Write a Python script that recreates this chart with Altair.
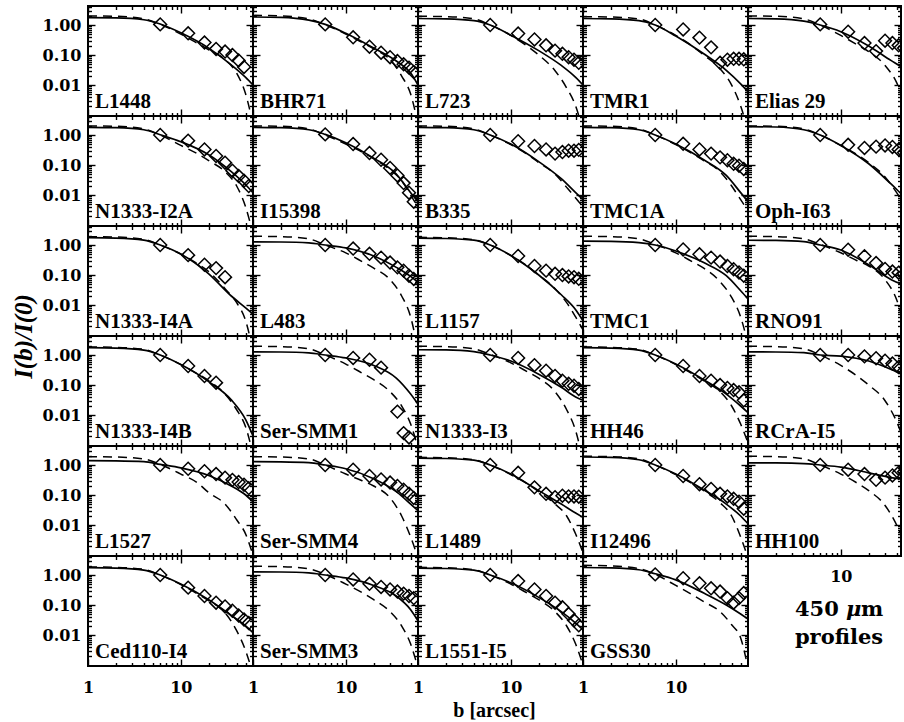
import math
import altair as alt
import pandas as pd

# ---------------- data ----------------
NAMES = ["L1448", "BHR71", "L723", "TMR1", "Elias 29",
         "N1333-I2A", "I15398", "B335", "TMC1A", "Oph-I63",
         "N1333-I4A", "L483", "L1157", "TMC1", "RNO91",
         "N1333-I4B", "Ser-SMM1", "N1333-I3", "HH46", "RCrA-I5",
         "L1527", "Ser-SMM4", "L1489", "I12496", "HH100",
         "Ced110-I4", "Ser-SMM3", "L1551-I5", "GSS30"]

# observed normalised intensity at impact parameters b (arcsec)
DIAMOND_B = [6, 12, 18, 24, 30, 36, 42, 48, 54]
DIAMOND_I = [
    [1.05, 0.53, 0.26, 0.16, 0.13, 0.10, 0.066, 0.040],
    [1.05, 0.39, 0.19, 0.12, 0.085, 0.063, 0.049, 0.038, 0.027],
    [1.0, 0.52, 0.33, 0.21, 0.14, 0.11, 0.085, 0.07, 0.055],
    [1.0, 0.71, 0.38, 0.18, 0.055, 0.07, 0.075, 0.075, 0.072],
    [1.05, 0.6, 0.25, 0.135, 0.3, 0.25, 0.21, 0.17, 0.15],
    [1.0, 0.65, 0.33, 0.2, 0.12, 0.065, 0.043, 0.03, 0.02],
    [1.05, 0.5, 0.25, 0.15, 0.08, 0.045, 0.025, 0.012, 0.006],
    [1.0, 0.62, 0.43, 0.33, 0.24, 0.27, 0.3, 0.3, 0.32],
    [1.0, 0.51, 0.33, 0.24, 0.18, 0.145, 0.11, 0.095, 0.074],
    [1.0, 0.47, 0.37, 0.41, 0.45, 0.4, 0.33, 0.26],
    [1.0, 0.46, 0.22, 0.17, 0.085],
    [1.0, 0.76, 0.51, 0.38, 0.26, 0.18, 0.14, 0.095, 0.074],
    [1.0, 0.43, 0.2, 0.14, 0.11, 0.1, 0.09, 0.085, 0.075],
    [1.0, 0.71, 0.49, 0.38, 0.28, 0.2, 0.157, 0.122, 0.095],
    [1.0, 0.7, 0.42, 0.25, 0.16, 0.13, 0.12, 0.11],
    [1.0, 0.43, 0.2, 0.12],
    [1.0, 0.8, 0.7, 0.38, None, 0.013, 0.0025, 0.0018],
    [1.0, 0.8, 0.46, 0.3, 0.2, 0.14, 0.11, 0.095, 0.074],
    [1.0, 0.43, 0.2, 0.14, 0.1, 0.08, 0.068, 0.057, 0.031],
    [1.0, 1.0, 0.9, 0.78, 0.65, 0.52, 0.4, 0.3],
    [1.0, 0.75, 0.62, 0.5, 0.38, 0.32, 0.27, 0.22, 0.17],
    [1.0, 0.7, 0.43, 0.33, 0.26, 0.2, 0.15, 0.11, 0.08],
    [1.0, 0.55, 0.18, 0.11, 0.085, 0.095, 0.09, 0.09, 0.088],
    [1.0, 0.43, 0.23, 0.16, 0.11, 0.09, 0.075, 0.06, 0.035],
    [1.0, 0.7, 0.5, 0.32, 0.38, 0.45, 0.55, 0.6],
    [1.0, 0.38, 0.2, 0.12, 0.09, 0.065, 0.045, 0.033, 0.025],
    [1.0, 0.71, 0.51, 0.4, 0.33, 0.28, 0.24, 0.2, 0.17],
    [1.0, 0.63, 0.33, 0.2, 0.12, 0.084, 0.05, 0.031, 0.021],
    [1.05, 0.78, 0.53, 0.36, 0.28, 0.17, 0.12, 0.17, 0.25],
]

# solid model curve sampled at SOLID_B
SOLID_B = [1, 2, 4, 6, 10, 20, 35, 50, 60]
SOLID_I = [
    [1.75, 1.72, 1.5, 1.08, 0.55, 0.17, 0.047, 0.018, 0.010],
    [1.85, 1.8, 1.45, 1.05, 0.53, 0.17, 0.063, 0.025, 0.010],
    [1.65, 1.6, 1.4, 1.0, 0.46, 0.14, 0.045, 0.018, 0.010],
    [1.65, 1.6, 1.4, 1.0, 0.43, 0.11, 0.031, 0.011, 0.006],
    [1.65, 1.6, 1.35, 1.0, 0.6, 0.2, 0.065, 0.033, 0.025],
    [1.8, 1.75, 1.5, 1.02, 0.6, 0.22, 0.06, 0.022, 0.012],
    [1.8, 1.75, 1.5, 1.05, 0.55, 0.17, 0.05, 0.012, 0.006],
    [1.8, 1.75, 1.5, 1.0, 0.5, 0.13, 0.035, 0.012, 0.007],
    [1.8, 1.75, 1.5, 1.0, 0.5, 0.15, 0.045, 0.012, 0.006],
    [1.9, 1.85, 1.5, 1.0, 0.45, 0.11, 0.023, 0.008, 0.005],
    [1.75, 1.7, 1.45, 1.0, 0.5, 0.11, 0.02, 0.008, 0.005],
    [1.27, 1.26, 1.18, 1.0, 0.8, 0.43, 0.18, 0.09, 0.057],
    [1.7, 1.65, 1.45, 1.0, 0.45, 0.1, 0.022, 0.007, 0.003],
    [1.34, 1.32, 1.2, 1.0, 0.63, 0.26, 0.095, 0.03, 0.016],
    [1.44, 1.42, 1.3, 1.0, 0.68, 0.22, 0.07, 0.045, 0.04],
    [1.75, 1.7, 1.45, 1.0, 0.48, 0.13, 0.032, 0.007, 0.002],
    [1.27, 1.26, 1.18, 1.0, 0.8, 0.45, 0.17, 0.05, 0.023],
    [1.5, 1.48, 1.3, 1.0, 0.63, 0.23, 0.084, 0.04, 0.031],
    [1.75, 1.7, 1.45, 1.0, 0.5, 0.15, 0.05, 0.02, 0.012],
    [1.27, 1.26, 1.2, 1.0, 0.92, 0.63, 0.33, 0.2, 0.17],
    [1.4, 1.38, 1.3, 1.05, 0.8, 0.45, 0.2, 0.1, 0.06],
    [1.3, 1.28, 1.2, 1.0, 0.75, 0.35, 0.13, 0.05, 0.03],
    [1.7, 1.65, 1.45, 1.0, 0.5, 0.14, 0.05, 0.025, 0.018],
    [1.85, 1.8, 1.5, 1.0, 0.5, 0.15, 0.05, 0.02, 0.011],
    [1.18, 1.17, 1.12, 1.0, 0.85, 0.55, 0.38, 0.33, 0.3],
    [1.75, 1.7, 1.45, 1.0, 0.5, 0.15, 0.045, 0.02, 0.012],
    [1.27, 1.26, 1.18, 1.0, 0.8, 0.45, 0.2, 0.07, 0.03],
    [1.7, 1.65, 1.45, 1.0, 0.55, 0.18, 0.06, 0.025, 0.015],
    [1.78, 1.72, 1.5, 1.1, 0.69, 0.25, 0.1, 0.05, 0.034],
]

# dashed model curve sampled at DASH_B
DASH_B = [1, 2, 4, 6, 10, 15, 20, 30, 40, 50, 60]
DASH_I = [
    [2.0, 1.95, 1.6, 1.05, 0.5, 0.25, 0.15, 0.07, 0.025, 0.005, 0.0005],
    [2.1, 2.0, 1.6, 1.02, 0.5, 0.26, 0.16, 0.07, 0.02, 0.005, 0.0005],
    [1.95, 1.9, 1.6, 1.0, 0.45, 0.2, 0.1, 0.03, 0.008, 0.002, 0.0003],
    [1.9, 1.85, 1.6, 1.0, 0.45, 0.2, 0.1, 0.035, 0.01, 0.002, 0.0003],
    [2.0, 1.95, 1.6, 1.0, 0.45, 0.22, 0.13, 0.045, 0.012, 0.002, 0.0003],
    [2.0, 1.95, 1.6, 1.0, 0.45, 0.24, 0.14, 0.06, 0.02, 0.004, 0.0005],
    [2.0, 1.95, 1.6, 1.0, 0.5, 0.27, 0.16, 0.07, 0.03, 0.01, 0.004],
    [2.0, 1.95, 1.6, 1.0, 0.48, 0.23, 0.12, 0.05, 0.018, 0.008, 0.004],
    [2.0, 1.95, 1.6, 1.0, 0.48, 0.24, 0.14, 0.06, 0.02, 0.007, 0.003],
    [2.0, 1.95, 1.6, 1.0, 0.45, 0.22, 0.12, 0.04, 0.012, 0.004, 0.001],
    [1.9, 1.85, 1.55, 1.0, 0.5, 0.24, 0.13, 0.035, 0.012, 0.003, 0.0003],
    [1.95, 1.9, 1.6, 1.0, 0.55, 0.28, 0.17, 0.07, 0.02, 0.004, 0.0003],
    [1.8, 1.75, 1.5, 1.0, 0.45, 0.2, 0.1, 0.035, 0.012, 0.004, 0.0015],
    [1.95, 1.9, 1.6, 1.05, 0.55, 0.28, 0.17, 0.06, 0.018, 0.004, 0.0005],
    [1.95, 1.9, 1.6, 1.05, 0.55, 0.3, 0.2, 0.07, 0.015, 0.0015, 0.0002],
    [1.85, 1.8, 1.55, 1.0, 0.48, 0.24, 0.14, 0.05, 0.015, 0.004, 0.0005],
    [1.95, 1.9, 1.6, 1.0, 0.5, 0.25, 0.15, 0.06, 0.02, 0.005, 0.0008],
    [1.95, 1.9, 1.6, 1.05, 0.55, 0.28, 0.17, 0.06, 0.015, 0.003, 0.0003],
    [1.85, 1.8, 1.55, 1.0, 0.48, 0.24, 0.14, 0.06, 0.02, 0.005, 0.0012],
    [1.95, 1.9, 1.6, 1.0, 0.45, 0.2, 0.1, 0.03, 0.006, 0.001, 0.0002],
    [1.9, 1.85, 1.6, 1.05, 0.5, 0.26, 0.12, 0.05, 0.015, 0.005, 0.001],
    [1.9, 1.85, 1.6, 1.0, 0.5, 0.3, 0.2, 0.08, 0.02, 0.004, 0.0008],
    [1.8, 1.75, 1.5, 1.0, 0.48, 0.24, 0.13, 0.05, 0.02, 0.005, 0.0012],
    [1.95, 1.9, 1.6, 1.0, 0.48, 0.24, 0.14, 0.055, 0.02, 0.004, 0.0008],
    [1.95, 1.9, 1.6, 1.0, 0.5, 0.25, 0.14, 0.045, 0.01, 0.002, 0.0003],
    [1.85, 1.8, 1.55, 1.0, 0.48, 0.24, 0.14, 0.055, 0.014, 0.003, 0.0005],
    [1.95, 1.9, 1.6, 1.05, 0.5, 0.26, 0.15, 0.06, 0.02, 0.005, 0.0008],
    [1.8, 1.75, 1.5, 1.0, 0.5, 0.25, 0.15, 0.06, 0.02, 0.005, 0.001],
    [2.1, 2.0, 1.65, 1.05, 0.45, 0.22, 0.13, 0.06, 0.022, 0.008, 0.0008],
]

X_MAJOR = [1, 10]
X_MINOR = [2, 3, 4, 5, 6, 7, 8, 9, 20, 30, 40, 50]
Y_MAJOR = [1.0, 0.1, 0.01]
Y_MINOR = [0.002, 0.003, 0.004, 0.005, 0.006, 0.007, 0.008, 0.009,
           0.02, 0.03, 0.04, 0.05, 0.06, 0.07, 0.08, 0.09,
           0.2, 0.3, 0.4, 0.5, 0.6, 0.7, 0.8, 0.9, 2.0, 3.0, 4.0]

# caption pieces (the Greek mu is set in italics)
CAPTION_PARTS = ["450", "\u03bc", "m"]
CAPTION_STYLES = ["normal", "italic", "normal"]
CAPTION_LINE2 = "profiles"

# ---------------- layout ----------------
W = 165
W_LAST = 153
H = 110
X_MAX = 60.0
X_MAX_LAST = 10 ** (math.log10(X_MAX) * W_LAST / W)
Y_DOMAIN = [0.00093, 4.3]

TICK_FONT = "DejaVu Serif"
NAME_FONT = "Liberation Serif"
MAJ, MIN = 7, 3.5


def axis(orient, values, size, labels=False, lp=0, fmt=None, **kw):
    args = dict(orient=orient, values=values, tickSize={"expr": str(-size)},
                labels=labels, domain=False, grid=False, ticks=True,
                tickColor="black", tickWidth=1.4, labelFlush=False,
                labelOverlap=False, labelPadding=lp, labelFont=TICK_FONT,
                labelFontSize=16, labelFontWeight="bold", labelColor="black")
    if fmt:
        args["format"] = fmt
    if "title" not in kw:
        args["title"] = None
    args.update(kw)
    return alt.Axis(**args)


def panel(i):
    r, c = divmod(i, 5)
    last = c == 4
    w = W_LAST if last else W
    xmax = X_MAX_LAST if last else X_MAX
    xs = alt.Scale(type="log", domain=[1, xmax], nice=False)
    ys = alt.Scale(type="log", domain=Y_DOMAIN, nice=False)
    xmaj = [v for v in X_MAJOR if v <= xmax]
    xmin = [v for v in X_MINOR if v <= xmax]

    pts = pd.DataFrame([(b, v) for b, v in zip(DIAMOND_B, DIAMOND_I[i]) if v is not None],
                       columns=["b", "I"])
    sol = pd.DataFrame({"b": SOLID_B, "I": SOLID_I[i]})
    das = pd.DataFrame({"b": DASH_B, "I": DASH_I[i]})

    if r == 5:
        if i == 27:
            xb = axis("bottom", xmaj, MAJ, labels=True, lp=MAJ + 13, fmt="d",
                      title="b [arcsec]", titleX=76, titlePadding=5,
                      titleFont=NAME_FONT, titleFontSize=20, titleFontWeight="bold",
                      titleColor="black")
        else:
            xb = axis("bottom", xmaj, MAJ, labels=True, lp=MAJ + 13, fmt="d")
    elif i == 24:
        xb = axis("bottom", [10], MAJ, labels=True, lp=MAJ + 12, fmt="d")
    else:
        xb = axis("bottom", xmaj, MAJ)
    if c == 0:
        if i == 10:
            yl = axis("left", Y_MAJOR, MAJ, labels=True, lp=MAJ + 7, fmt=".2f",
                      title="I(b)/I(0)", titleY=H, titlePadding=6,
                      titleFont=NAME_FONT, titleFontSize=25, titleFontWeight="bold",
                      titleFontStyle="italic", titleColor="black")
        else:
            yl = axis("left", Y_MAJOR, MAJ, labels=True, lp=MAJ + 7, fmt=".2f")
    else:
        yl = axis("left", Y_MAJOR, MAJ)

    p_layer = alt.Chart(pts).mark_point(
        shape="diamond", filled=False, size=165, stroke="black",
        strokeWidth=1.5, opacity=1, clip=True
    ).encode(x=alt.X("b:Q", scale=xs, axis=xb), y=alt.Y("I:Q", scale=ys, axis=yl))

    s_layer = alt.Chart(sol).mark_line(
        color="black", strokeWidth=1.7, interpolate="monotone", clip=True
    ).encode(x=alt.X("b:Q", scale=xs, axis=axis("top", xmaj, MAJ)),
             y=alt.Y("I:Q", scale=ys, axis=axis("right", Y_MAJOR, MAJ)))

    d_layer = alt.Chart(das).mark_line(
        color="black", strokeWidth=1.5, strokeDash=[9, 6], interpolate="monotone", clip=True
    ).encode(x=alt.X("b:Q", scale=xs, axis=axis("bottom", xmin, MIN)),
             y=alt.Y("I:Q", scale=ys, axis=axis("left", Y_MINOR, MIN)))

    g_layer = alt.Chart(pts).mark_point(opacity=0, clip=True).encode(
        x=alt.X("b:Q", scale=xs, axis=axis("top", xmin, MIN)),
        y=alt.Y("I:Q", scale=ys, axis=axis("right", Y_MINOR, MIN)))

    t_layer = alt.Chart(pd.DataFrame({"name": [NAMES[i]]})).mark_text(
        align="left", baseline="alphabetic", font=NAME_FONT, fontSize=21,
        fontWeight="bold", color="black"
    ).encode(x=alt.value(7), y=alt.value(H - 8), text="name:N")

    return alt.layer(s_layer, d_layer, p_layer, g_layer, t_layer).properties(width=w, height=H)


def caption_cell():
    layers = []
    xs = [47, 98, 113]
    for txt, sty, x in zip(CAPTION_PARTS, CAPTION_STYLES, xs):
        layers.append(
            alt.Chart(pd.DataFrame({"t": [txt]})).mark_text(
                align="left", baseline="middle", font=TICK_FONT, fontSize=21,
                fontWeight="bold", fontStyle=sty, color="black"
            ).encode(x=alt.value(x), y=alt.value(54), text="t:N")
        )
    layers.append(
        alt.Chart(pd.DataFrame({"t": [CAPTION_LINE2]})).mark_text(
            align="center", baseline="middle", font=TICK_FONT, fontSize=21,
            fontWeight="bold", color="black"
        ).encode(x=alt.value(91), y=alt.value(82), text="t:N")
    )
    return alt.layer(*layers).properties(
        width=W_LAST, height=H, view=alt.ViewBackground(stroke="transparent"))


cells = [panel(i) for i in range(len(NAMES))] + [caption_cell()]

chart = alt.concat(*cells, columns=5, spacing=0, bounds="flush", align="each").properties(
    padding={"left": 10, "top": 4, "right": 0, "bottom": 2},
    background="white",
).configure_view(stroke="black", strokeWidth=2)

chart.save("out.html", embed_options={"renderer": "svg", "actions": False})
